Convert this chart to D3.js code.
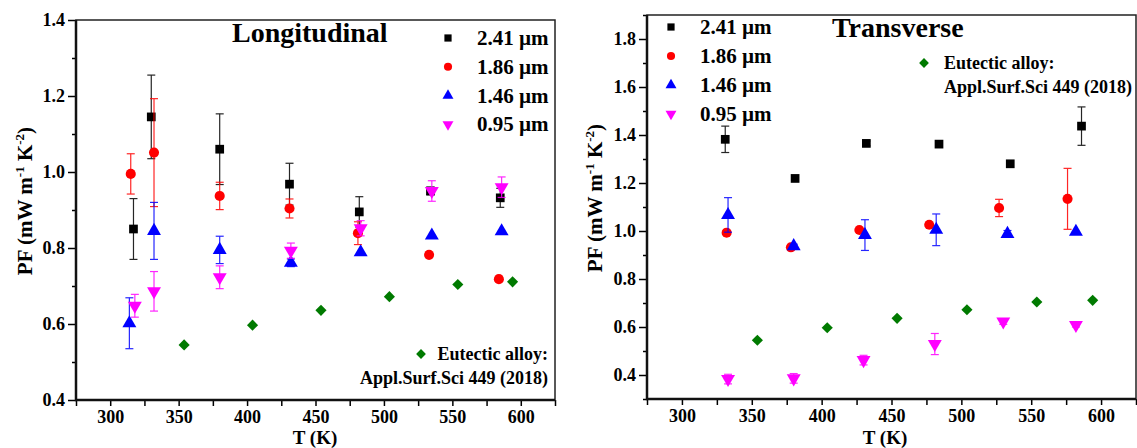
<!DOCTYPE html>
<html>
<head>
<meta charset="utf-8">
<script src="https://cdn.jsdelivr.net/npm/d3@7"></script>
<style>
  body { margin: 0; background: #fff; }
  svg { display: block; }
  text { font-family: "Liberation Serif", "Times New Roman", serif; font-weight: bold; }
</style>
</head>
<body>
<svg id="chart" width="1137" height="448" font-family="Liberation Serif"></svg>
<script>
// sample labels
const sizeLabels = ["2.41 µm", "1.86 µm", "1.46 µm", "0.95 µm"]
const eutecticLabel = ["Eutectic alloy:", "Appl.Surf.Sci 449 (2018)"]

// Longitudinal
const L241_T = [317, 330, 380, 431, 482, 534, 585]
const L241_PF = [0.850, 1.145, 1.060, 0.968, 0.895, 0.950, 0.932]
const L241_err = [0.080, 0.110, 0.093, 0.055, 0.040, 0.010, 0.025]

const L186_T = [315, 332, 380, 431, 481, 533, 584]
const L186_PF = [0.995, 1.051, 0.937, 0.904, 0.839, 0.782, 0.718]
const L186_err = [0.053, 0.142, 0.036, 0.025, 0.030, 0, 0]

const L146_T = [314, 332, 380, 432, 483, 535, 586]
const L146_PF = [0.602, 0.845, 0.795, 0.761, 0.789, 0.833, 0.844]
const L146_err = [0.067, 0.075, 0.036, 0.010, 0, 0, 0]

const L095_T = [318, 332, 380, 432, 483, 535, 586]
const L095_PF = [0.648, 0.686, 0.723, 0.793, 0.852, 0.950, 0.960]
const L095_err = [0.030, 0.052, 0.030, 0.020, 0.020, 0.027, 0.027]

// Transverse
const T241_T = [331, 381, 432, 484, 535, 586]
const T241_PF = [1.382, 1.219, 1.365, 1.362, 1.280, 1.437]
const T241_err = [0.055, 0, 0.010, 0.012, 0, 0.080]

const T186_T = [332, 378, 427, 477, 527, 576]
const T186_PF = [0.993, 0.932, 1.004, 1.026, 1.096, 1.134]
const T186_err = [0.008, 0.006, 0, 0, 0.036, 0.127]

const T146_T = [333, 380, 431, 482, 533, 582]
const T146_PF = [1.067, 0.937, 0.983, 1.005, 0.988, 0.997]
const T146_err = [0.072, 0.008, 0.064, 0.066, 0.014, 0]

const T095_T = [333, 380, 430, 481, 530, 582]
const T095_PF = [0.383, 0.386, 0.462, 0.529, 0.623, 0.608]
const T095_err = [0.020, 0.020, 0.020, 0.044, 0.012, 0.008]

// Eutectic alloy reference (same in both panels)
const EU_T = [354, 404, 454, 504, 554, 594]
const EU_PF = [0.545, 0.597, 0.636, 0.672, 0.704, 0.711]

const xTicks = [300, 350, 400, 450, 500, 550, 600]
const xMinor = [275, 325, 375, 425, 475, 525, 575, 625]
const longYTicks = [0.4, 0.6, 0.8, 1.0, 1.2, 1.4]
const longYMinor = [0.5, 0.7, 0.9, 1.1, 1.3]
const transYTicks = [0.4, 0.6, 0.8, 1.0, 1.2, 1.4, 1.6, 1.8]
const transYMinor = [0.3, 0.5, 0.7, 0.9, 1.1, 1.3, 1.5, 1.7, 1.9]

const colors = ["#000000", "#ff0000", "#0000ff", "#ff00ff"]
const shapes = ["square", "circle", "up", "down"]
const euColor = "#007a00"

const svg = d3.select("#chart")

function symbolPath(shape, size){
    if(shape === "square") return d3.symbol(d3.symbolSquare, size)()
    if(shape === "circle") return d3.symbol(d3.symbolCircle, size)()
    if(shape === "diamond") return d3.symbol(d3.symbolSquare, size)()
    return d3.symbol(d3.symbolTriangle, size)()
}
function symbolRotate(shape){
    if(shape === "down") return " rotate(180)"
    if(shape === "diamond") return " rotate(45)"
    return ""
}
const markerSize = {square: 76, circle: 80, up: 84, down: 84, diamond: 62}

function drawPanel(cfg){
    const g = svg.append("g")
    const x = d3.scaleLinear().domain([275, 625]).range([cfg.left, cfg.right])
    const y = d3.scaleLinear().domain(cfg.yDomain).range([cfg.bottom, cfg.top])

    // axes
    g.append("g").attr("transform", `translate(${cfg.left},0)`)
        .call(d3.axisLeft(y).tickValues(cfg.yTicks).tickSize(8).tickPadding(3).tickFormat(d3.format(".1f")))
        .call(a => a.select(".domain").remove())
        .call(a => a.attr("font-family", null).attr("font-size", null))
        .call(a => a.selectAll("text").style("font-size", "18px").attr("fill", "#000"))
        .call(a => a.selectAll("line").attr("stroke-width", 1.5))
    g.append("g").attr("transform", `translate(${cfg.left},0)`)
        .call(d3.axisLeft(y).tickValues(cfg.yMinor).tickSize(4).tickFormat(""))
        .call(a => a.select(".domain").remove())
        .call(a => a.selectAll("line").attr("stroke-width", 1.5))
    g.append("g").attr("transform", `translate(0,${cfg.bottom})`)
        .call(d3.axisBottom(x).tickValues(xTicks).tickSize(6).tickPadding(4))
        .call(a => a.select(".domain").remove())
        .call(a => a.attr("font-family", null).attr("font-size", null))
        .call(a => a.selectAll("text").style("font-size", "18px").attr("fill", "#000"))
        .call(a => a.selectAll("line").attr("stroke-width", 1.5))
    g.append("g").attr("transform", `translate(0,${cfg.bottom})`)
        .call(d3.axisBottom(x).tickValues(xMinor).tickSize(6).tickFormat(""))
        .call(a => a.select(".domain").remove())
        .call(a => a.selectAll("line").attr("stroke-width", 1.5))

    // frame
    g.append("rect")
        .attr("x", cfg.left).attr("y", cfg.top)
        .attr("width", cfg.right - cfg.left).attr("height", cfg.bottom - cfg.top)
        .attr("fill", "none").attr("stroke", "#222").attr("stroke-width", 1.5)
    g.append("path")
        .attr("d", `M${cfg.left},${cfg.top}V${cfg.bottom}H${cfg.right}`)
        .attr("fill", "none").attr("stroke", "#111").attr("stroke-width", 2.5)

    // axis titles
    const yl = g.append("text")
        .attr("transform", `translate(${cfg.yLabelX},${cfg.yLabelY}) rotate(-90)`)
        .attr("text-anchor", "middle").style("font-size", "21px")
    yl.append("tspan").text("PF (mW m")
    yl.append("tspan").attr("dy", -8).style("font-size", "13px").text("-1")
    yl.append("tspan").attr("dy", 8).text(" K")
    yl.append("tspan").attr("dy", -8).style("font-size", "13px").text("-2")
    yl.append("tspan").attr("dy", 8).text(")")
    g.append("text")
        .attr("x", cfg.xLabelX).attr("y", 443.5)
        .attr("text-anchor", "middle").style("font-size", "19px")
        .text("T (K)")

    // eutectic alloy
    g.append("g").selectAll("path").data(EU_T.map((t, i) => [t, EU_PF[i]])).join("path")
        .attr("d", symbolPath("diamond", markerSize.diamond))
        .attr("transform", d => `translate(${x(d[0])},${y(d[1])})` + symbolRotate("diamond"))
        .attr("fill", euColor)

    // measured series
    cfg.series.forEach((s, k) => {
        const pts = s.T.map((t, i) => ({t: t, v: s.PF[i], e: s.err[i]}))
        const eb = g.append("g").attr("stroke", colors[k]).attr("stroke-width", 1.2).attr("opacity", 0.85)
        pts.filter(d => d.e > 0).forEach(d => {
            const cx = x(d.t), y1 = y(d.v + d.e), y2 = y(d.v - d.e)
            eb.append("line").attr("x1", cx).attr("x2", cx).attr("y1", y1).attr("y2", y2)
            eb.append("line").attr("x1", cx - 4).attr("x2", cx + 4).attr("y1", y1).attr("y2", y1)
            eb.append("line").attr("x1", cx - 4).attr("x2", cx + 4).attr("y1", y2).attr("y2", y2)
        })
        g.append("g").selectAll("path").data(pts).join("path")
            .attr("d", symbolPath(shapes[k], markerSize[shapes[k]]))
            .attr("transform", d => `translate(${x(d.t)},${y(d.v)})` + symbolRotate(shapes[k]))
            .attr("fill", colors[k])
    })

    // title
    g.append("text").attr("x", cfg.titleX).attr("y", cfg.titleY)
        .style("font-size", "28px").text(cfg.title)

    // legend for sizes
    sizeLabels.forEach((lab, k) => {
        const ly = cfg.legY + k * cfg.legStep
        g.append("path")
            .attr("d", symbolPath(shapes[k], 52))
            .attr("transform", `translate(${cfg.legMarkX},${ly})` + symbolRotate(shapes[k]))
            .attr("fill", colors[k])
        g.append("text").attr("x", cfg.legTextX).attr("y", ly + 7)
            .style("font-size", "21px").text(lab)
    })

    // legend for eutectic alloy
    g.append("path")
        .attr("d", symbolPath("diamond", 48))
        .attr("transform", `translate(${cfg.euMarkX},${cfg.euY})` + symbolRotate("diamond"))
        .attr("fill", euColor)
    eutecticLabel.forEach((lab, i) => {
        g.append("text").attr("x", cfg.euTextX).attr("y", cfg.euY + 6 + i * 24)
            .attr("text-anchor", cfg.euAnchor)
            .style("font-size", "18px").text(lab)
    })
}

drawPanel({
    left: 76, right: 555, top: 20, bottom: 400,
    yDomain: [0.4, 1.4], yTicks: longYTicks, yMinor: longYMinor,
    yLabelX: 32, yLabelY: 201, xLabelX: 315,
    title: "Longitudinal", titleX: 232, titleY: 42,
    legMarkX: 448, legTextX: 477, legY: 38, legStep: 28.8,
    euMarkX: 421, euY: 354, euTextX: 548, euAnchor: "end",
    series: [
        {T: L241_T, PF: L241_PF, err: L241_err},
        {T: L186_T, PF: L186_PF, err: L186_err},
        {T: L146_T, PF: L146_PF, err: L146_err},
        {T: L095_T, PF: L095_PF, err: L095_err}
    ]
})

drawPanel({
    left: 647, right: 1136, top: 15, bottom: 399,
    yDomain: [0.3, 1.9], yTicks: transYTicks, yMinor: transYMinor,
    yLabelX: 602, yLabelY: 198, xLabelX: 885,
    title: "Transverse", titleX: 832, titleY: 37,
    legMarkX: 671, legTextX: 700, legY: 27, legStep: 29,
    euMarkX: 924, euY: 63, euTextX: 944, euAnchor: "start",
    series: [
        {T: T241_T, PF: T241_PF, err: T241_err},
        {T: T186_T, PF: T186_PF, err: T186_err},
        {T: T146_T, PF: T146_PF, err: T146_err},
        {T: T095_T, PF: T095_PF, err: T095_err}
    ]
})
</script>
</body>
</html>
